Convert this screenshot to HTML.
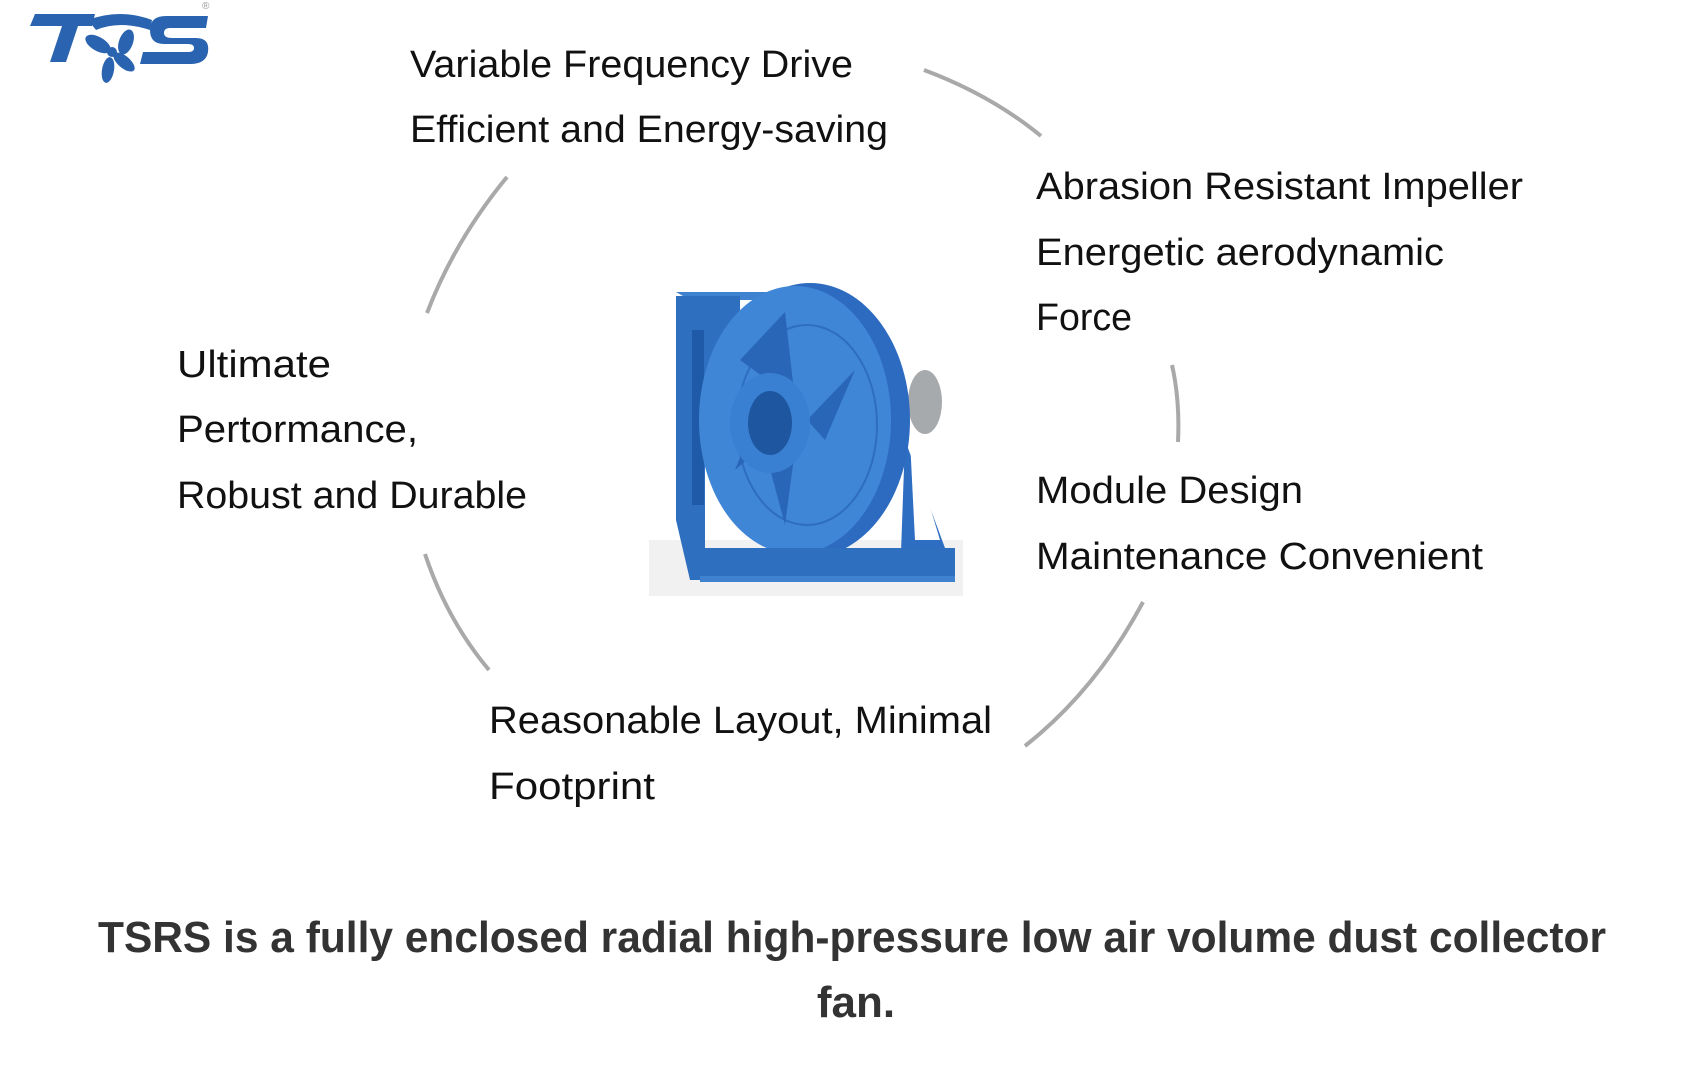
<!DOCTYPE html>
<html><head><meta charset="utf-8"><style>
html,body{margin:0;padding:0;background:#fff;}
svg{display:block;}
text{font-family:"Liberation Sans",sans-serif;}
</style></head><body>
<svg width="1706" height="1070" viewBox="0 0 1706 1070" xmlns="http://www.w3.org/2000/svg">
<rect width="1706" height="1070" fill="#fff"/>
<!-- logo -->
<g fill="#2a64b0">
  <path d="M35 14 L95 14 L92 26 L78 26 L66 62 L50 62 L62 26 L30 26 Z"/>
  <path d="M88 20 Q120 8 152 20 L150 30 Q120 20 96 30 Z"/>
  <circle cx="112" cy="52" r="5"/>
  <ellipse cx="98" cy="44" rx="14" ry="7" transform="rotate(30 98 44)"/>
  <ellipse cx="126" cy="42" rx="7" ry="13" transform="rotate(20 126 42)"/>
  <ellipse cx="124" cy="62" rx="13" ry="6" transform="rotate(40 124 62)"/>
  <ellipse cx="108" cy="70" rx="6" ry="13" transform="rotate(10 108 70)"/>
  <path d="M150 30 Q150 16 166 16 L208 16 L206 28 L170 28 Q164 28 164 33 Q164 38 172 38 L196 38 Q210 38 208 52 Q206 64 190 64 L140 64 L143 52 L188 52 Q194 52 194 48 Q194 44 188 44 L164 44 Q150 44 150 30 Z"/>
</g>
<text x="202" y="9" font-size="10" fill="#999">®</text>
<!-- arcs -->
<g fill="none" stroke="#a9a9a9" stroke-width="4" stroke-linecap="butt">
  <path d="M924 70 Q991 95 1041 136"/>
  <path d="M507 177 Q455 240 427 313"/>
  <path d="M1172 365 Q1180 400 1178 442"/>
  <path d="M1143 602 Q1096 690 1025 746"/>
  <path d="M425 554 Q447 620 489 670"/>
</g>
<!-- fan -->
<g>
  <rect x="649" y="540" width="314" height="56" fill="#f1f1f1"/>
  <path d="M676 292 L770 292 L770 300 L690 300 Z" fill="#3e82d0"/>
  <path d="M676 296 L740 296 L740 330 L725 350 L705 440 L705 560 L712 580 L690 580 L676 520 Z" fill="#2f6fc0"/>
  <path d="M692 330 L704 330 L704 505 L692 505 Z" fill="#1f5aa8"/>
  <path d="M905 440 L955 575 L900 580 Z" fill="#2e6ec2"/>
  <path d="M910 440 L940 540 L915 540 Z" fill="#fff"/>
  <ellipse cx="925" cy="402" rx="17" ry="32" fill="#a7aaad"/>
  <ellipse cx="810" cy="420" rx="100" ry="137" fill="#2d6bc0"/>
  <ellipse cx="795" cy="420" rx="96" ry="134" fill="#3f86d6"/>
  <ellipse cx="807" cy="425" rx="70" ry="100" fill="none" stroke="#2e6dc0" stroke-width="2"/>
  <path d="M785 312 L795 400 L740 360 Z M855 370 L807 420 L825 440 Z M795 450 L785 525 L765 450 Z M735 470 L770 440 L755 420 Z" fill="#2a66b8"/>
  <ellipse cx="770" cy="423" rx="40" ry="50" fill="#3a80d2"/>
  <ellipse cx="770" cy="423" rx="22" ry="32" fill="#1e56a0"/>
  <rect x="700" y="548" width="255" height="28" fill="#2f6fc0"/>
  <rect x="700" y="576" width="255" height="6" fill="#3e82d0"/>
</g>
<!-- labels -->
<g font-size="38" fill="#111">
  <text x="410" y="77" textLength="443" lengthAdjust="spacingAndGlyphs">Variable Frequency Drive</text>
  <text x="410" y="142" textLength="478" lengthAdjust="spacingAndGlyphs">Efficient and Energy-saving</text>
  <text x="1036" y="199" textLength="487" lengthAdjust="spacingAndGlyphs">Abrasion Resistant Impeller</text>
  <text x="1036" y="265" textLength="408" lengthAdjust="spacingAndGlyphs">Energetic aerodynamic</text>
  <text x="1036" y="330" textLength="96" lengthAdjust="spacingAndGlyphs">Force</text>
  <text x="177" y="377" textLength="154" lengthAdjust="spacingAndGlyphs">Ultimate</text>
  <text x="177" y="442" textLength="241" lengthAdjust="spacingAndGlyphs">Pertormance,</text>
  <text x="177" y="508" textLength="350" lengthAdjust="spacingAndGlyphs">Robust and Durable</text>
  <text x="1036" y="503" textLength="267" lengthAdjust="spacingAndGlyphs">Module Design</text>
  <text x="1036" y="569" textLength="447" lengthAdjust="spacingAndGlyphs">Maintenance Convenient</text>
  <text x="489" y="733" textLength="503" lengthAdjust="spacingAndGlyphs">Reasonable Layout, Minimal</text>
  <text x="489" y="799" textLength="166" lengthAdjust="spacingAndGlyphs">Footprint</text>
</g>
<g font-size="44" font-weight="bold" fill="#333">
  <text x="98" y="952" textLength="1508" lengthAdjust="spacingAndGlyphs">TSRS is a fully enclosed radial high-pressure low air volume dust collector</text>
  <text x="856" y="1017" text-anchor="middle">fan.</text>
</g>
</svg>
</body></html>
